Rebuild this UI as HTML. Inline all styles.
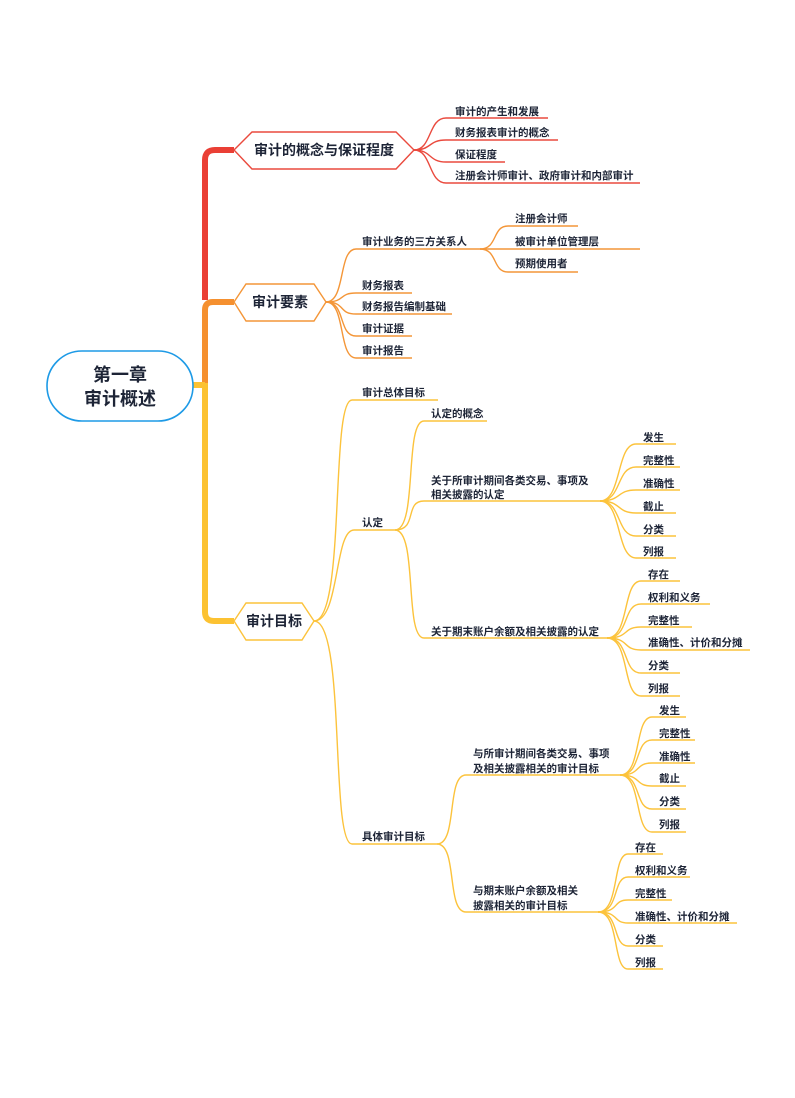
<!DOCTYPE html>
<html><head><meta charset="utf-8"><style>
html,body{margin:0;padding:0;background:#fff;}
svg{display:block;}
text{font-family:"Liberation Sans","Noto Sans CJK SC",sans-serif;fill:#1d2436;font-weight:bold;}
.s{font-size:10.5px;}
.r{stroke:#ea4a3e;fill:none;stroke-width:1.4;}
.o{stroke:#f49638;fill:none;stroke-width:1.4;}
.y{stroke:#fcc33c;fill:none;stroke-width:1.4;}
</style></head><body>
<svg width="795" height="1098" viewBox="0 0 795 1098">
<!-- trunk -->
<path d="M205,300 V160 Q205,150 215,150 H234" stroke="#ea3f35" stroke-width="6" fill="none"/>
<path d="M205,385 V310 Q205,302 213,302 H234" stroke="#f5902f" stroke-width="6" fill="none"/>
<path d="M205,383 V612 Q205,621 214,621 H234" stroke="#fcc232" stroke-width="6" fill="none"/>
<path d="M192,385 H205" stroke="#fcc232" stroke-width="6"/>
<!-- root -->
<rect x="47" y="351" width="146" height="70" rx="35" fill="#fff" stroke="#1d9ae6" stroke-width="1.6"/>
<text x="120" y="381" text-anchor="middle" font-size="18">第一章</text>
<text x="120" y="405" text-anchor="middle" font-size="18">审计概述</text>
<!-- node 1 -->
<polygon points="234,150 252,132 396,132 414,150 396,169 252,169" fill="#fff" stroke="#ea4a3e" stroke-width="1.4"/>
<text x="324" y="155" text-anchor="middle" font-size="14">审计的概念与保证程度</text>
<path class="r" d="M414,150 C432,150 428,118 446,118 H548"/>
<path class="r" d="M414,150 C432,150 428,140 446,140 H558"/>
<path class="r" d="M414,150 C432,150 428,162 446,162 H505"/>
<path class="r" d="M414,150 C432,150 428,183 446,183 H640"/>
<text class="s" x="455" y="115">审计的产生和发展</text>
<text class="s" x="455" y="136">财务报表审计的概念</text>
<text class="s" x="455" y="158">保证程度</text>
<text class="s" x="455" y="179">注册会计师审计、政府审计和内部审计</text>
<!-- node 2 -->
<polygon points="234,302 246,284 314,284 326,302 314,321 246,321" fill="#fff" stroke="#f49638" stroke-width="1.4"/>
<text x="280" y="307" text-anchor="middle" font-size="14">审计要素</text>
<path class="o" d="M326,302 C346,302 338,249 356,249 H480"/>
<path class="o" d="M326,302 C346,302 338,293 356,293 H412"/>
<path class="o" d="M326,302 C346,302 338,314 356,314 H452"/>
<path class="o" d="M326,302 C346,302 338,336 356,336 H412"/>
<path class="o" d="M326,302 C346,302 338,358 356,358 H412"/>
<text class="s" x="362" y="245">审计业务的三方关系人</text>
<text class="s" x="362" y="289">财务报表</text>
<text class="s" x="362" y="310">财务报告编制基础</text>
<text class="s" x="362" y="332">审计证据</text>
<text class="s" x="362" y="354">审计报告</text>
<path class="o" d="M480,249 C498,249 492,226 508,226 H578"/>
<path class="o" d="M480,249 H640"/>
<path class="o" d="M480,249 C498,249 492,272 508,272 H578"/>
<text class="s" x="515" y="222">注册会计师</text>
<text class="s" x="515" y="245">被审计单位管理层</text>
<text class="s" x="515" y="267">预期使用者</text>
<!-- node 3 -->
<polygon points="234,621 246,603 302,603 314,621 302,640 246,640" fill="#fff" stroke="#fcc33c" stroke-width="1.4"/>
<text x="274" y="626" text-anchor="middle" font-size="14">审计目标</text>
<path class="y" d="M314,621 C346,621 330,400 352,400 H438"/>
<path class="y" d="M314,621 C340,621 334,530 354,530 H395"/>
<path class="y" d="M314,621 C346,621 330,844 352,844 H437"/>
<text class="s" x="362" y="396">审计总体目标</text>
<text class="s" x="362" y="526">认定</text>
<text class="s" x="362" y="840">具体审计目标</text>
<!-- 认定 -->
<path class="y" d="M395,530 C418,530 404,421 424,421 H487"/>
<path class="y" d="M395,530 C418,530 404,501 424,501 H600"/>
<path class="y" d="M395,530 C418,530 404,638 424,638 H607"/>
<text class="s" x="431" y="417">认定的概念</text>
<text class="s" x="431" y="484">关于所审计期间各类交易、事项及</text>
<text class="s" x="431" y="498">相关披露的认定</text>
<text class="s" x="431" y="635">关于期末账户余额及相关披露的认定</text>
<path class="y" d="M600,501 C622,501 616,444 636,444 H676"/>
<path class="y" d="M600,501 C622,501 616,467 636,467 H680"/>
<path class="y" d="M600,501 C622,501 616,490 636,490 H680"/>
<path class="y" d="M600,501 C622,501 616,513 636,513 H676"/>
<path class="y" d="M600,501 C622,501 616,536 636,536 H676"/>
<path class="y" d="M600,501 C622,501 616,558 636,558 H676"/>
<text class="s" x="643" y="441">发生</text>
<text class="s" x="643" y="464">完整性</text>
<text class="s" x="643" y="487">准确性</text>
<text class="s" x="643" y="510">截止</text>
<text class="s" x="643" y="533">分类</text>
<text class="s" x="643" y="555">列报</text>
<path class="y" d="M607,638 C630,638 622,581 641,581 H680"/>
<path class="y" d="M607,638 C630,638 622,604 641,604 H710"/>
<path class="y" d="M607,638 C630,638 622,627 641,627 H692"/>
<path class="y" d="M607,638 C630,638 622,650 641,650 H750"/>
<path class="y" d="M607,638 C630,638 622,673 641,673 H680"/>
<path class="y" d="M607,638 C630,638 622,696 641,696 H680"/>
<text class="s" x="648" y="578">存在</text>
<text class="s" x="648" y="601">权利和义务</text>
<text class="s" x="648" y="624">完整性</text>
<text class="s" x="648" y="646">准确性、计价和分摊</text>
<text class="s" x="648" y="669">分类</text>
<text class="s" x="648" y="692">列报</text>
<!-- 具体 -->
<path class="y" d="M437,844 C458,844 446,775 466,775 H620"/>
<path class="y" d="M437,844 C458,844 446,912 466,912 H598"/>
<text class="s" x="473" y="757">与所审计期间各类交易、事项</text>
<text class="s" x="473" y="772">及相关披露相关的审计目标</text>
<text class="s" x="473" y="894">与期末账户余额及相关</text>
<text class="s" x="473" y="909">披露相关的审计目标</text>
<path class="y" d="M620,775 C642,775 634,717 652,717 H686"/>
<path class="y" d="M620,775 C642,775 634,740 652,740 H695"/>
<path class="y" d="M620,775 C642,775 634,763 652,763 H695"/>
<path class="y" d="M620,775 C642,775 634,786 652,786 H686"/>
<path class="y" d="M620,775 C642,775 634,809 652,809 H686"/>
<path class="y" d="M620,775 C642,775 634,832 652,832 H686"/>
<text class="s" x="659" y="714">发生</text>
<text class="s" x="659" y="737">完整性</text>
<text class="s" x="659" y="760">准确性</text>
<text class="s" x="659" y="782">截止</text>
<text class="s" x="659" y="805">分类</text>
<text class="s" x="659" y="828">列报</text>
<path class="y" d="M598,912 C620,912 612,854 628,854 H663"/>
<path class="y" d="M598,912 C620,912 612,877 628,877 H690"/>
<path class="y" d="M598,912 C620,912 612,900 628,900 H672"/>
<path class="y" d="M598,912 C620,912 612,923 628,923 H737"/>
<path class="y" d="M598,912 C620,912 612,946 628,946 H663"/>
<path class="y" d="M598,912 C620,912 612,969 628,969 H663"/>
<text class="s" x="635" y="851">存在</text>
<text class="s" x="635" y="874">权利和义务</text>
<text class="s" x="635" y="897">完整性</text>
<text class="s" x="635" y="920">准确性、计价和分摊</text>
<text class="s" x="635" y="943">分类</text>
<text class="s" x="635" y="966">列报</text>
</svg>
</body></html>
